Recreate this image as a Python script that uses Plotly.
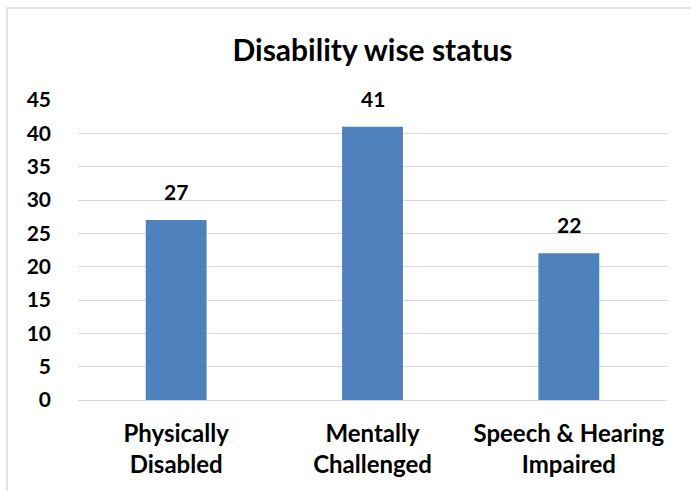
import plotly.graph_objects as go

categories = ["Physically<br>Disabled", "Mentally<br>Challenged", "Speech & Hearing<br>Impaired"]
values = [27, 41, 22]
y_ticks = [0, 5, 10, 15, 20, 25, 30, 35, 40, 45]

FONT = "Lato, Calibri, Carlito, sans-serif"

fig = go.Figure()
fig.add_trace(go.Bar(
    x=categories, y=values,
    marker=dict(color="#4F81BD", line=dict(width=0)),
    width=0.31,
    hoverinfo="skip",
))

for c, v in zip(categories, values):
    fig.add_annotation(x=c, y=v, text=f"<b>{v}</b>", showarrow=False,
                       yanchor="bottom", yshift=14,
                       font=dict(family=FONT, size=21, color="#000000"))

W, H = 690, 491
L, R, T, B = 78, 23, 100, 91
pw, ph = W - L - R, H - T - B

def px_to_paper_x(px):
    return (px - L) / pw

def px_to_paper_y(py):
    return (H - B - py) / ph

fig.add_shape(type="rect", xref="paper", yref="paper",
              x0=px_to_paper_x(7), x1=px_to_paper_x(700),
              y0=px_to_paper_y(500), y1=px_to_paper_y(8),
              line=dict(color="#D9D9D9", width=1.5), fillcolor="rgba(0,0,0,0)", layer="below")

fig.update_layout(
    width=W, height=H,
    margin=dict(l=L, r=R, t=T, b=B, autoexpand=False),
    paper_bgcolor="white", plot_bgcolor="white",
    showlegend=False,
    title=dict(text="<b>Disability wise status</b>", x=0.5, xref="paper", xanchor="center",
               y=1 - 50 / H, yanchor="middle",
               font=dict(family=FONT, size=30, color="#000000")),
    xaxis=dict(
        tickfont=dict(family=FONT, size=24, color="#000000", weight="bold"),
        showgrid=False, showline=True, linecolor="#D9D9D9", linewidth=1,
        ticks="", ticklabelstandoff=12, automargin=False,
    ),
    yaxis=dict(
        range=[0, 45], tickvals=y_ticks,
        tickfont=dict(family=FONT, size=21, color="#000000", weight="bold"),
        showgrid=True, gridcolor="#D9D9D9", gridwidth=1,
        zeroline=False, showline=False, ticks="", ticklabelstandoff=26, automargin=False,
    ),
    bargap=0.69,
)

fig.write_html("out.html", config={"displayModeBar": False},
               post_script="document.body.style.margin='0';")
